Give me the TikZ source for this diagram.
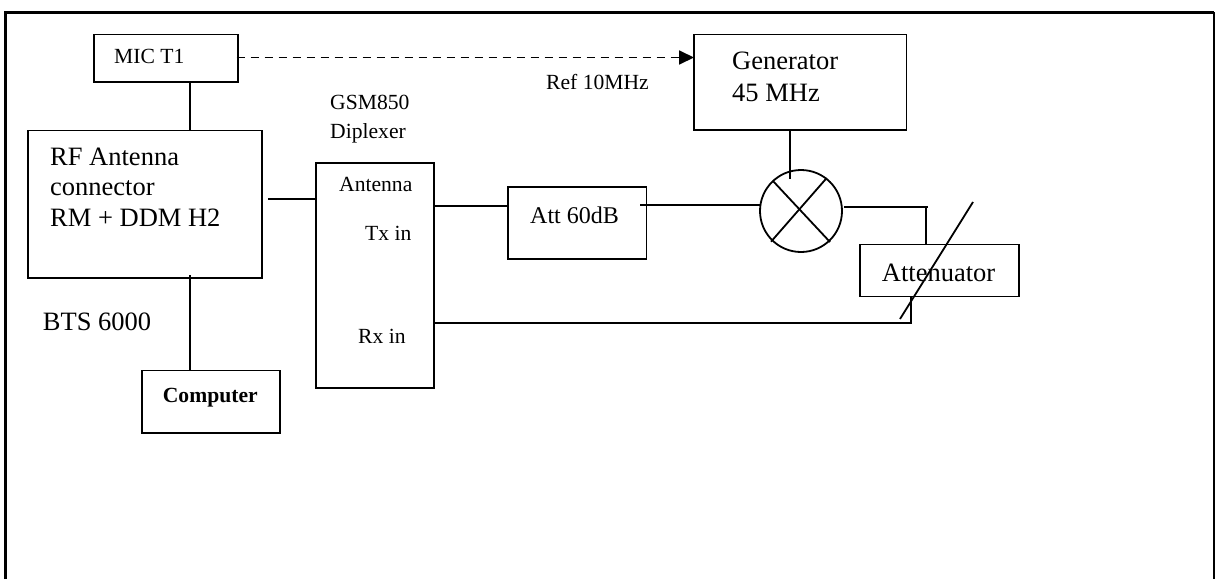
\documentclass[tikz,border=0pt]{standalone}
\usepackage{fontspec}
\setmainfont{Liberation Serif}
\usetikzlibrary{arrows.meta}
\tikzset{
  x=1pt,y=-1pt,
  boxnode/.style={draw,line width=1.8pt,inner sep=0pt,outer sep=0pt,anchor=north west},
  wire/.style={line width=1.8pt},
  big/.style={font=\fontsize{26.5}{31}\selectfont,inner sep=0pt,anchor=base west,align=left},
  small/.style={font=\fontsize{21.6}{30}\selectfont,inner sep=0pt,anchor=base west,align=left},
}
\newcommand{\boxat}[5]{\node[boxnode,minimum width=#4pt-#2pt,minimum height=#5pt-#3pt] (#1) at (#2,#3) {};}
\begin{document}
\begin{tikzpicture}
\useasboundingbox (0,0) rectangle (1215,579);
\fill[white] (0,0) rectangle (1215,579);
% frame
\coordinate (fbl) at (5.5,579);
\coordinate (ftl) at (5.5,12);
\coordinate (ftr) at (1214,12);
\coordinate (fbr) at (1214,579);
\draw[line width=3pt] (fbl) -- (ftl) -- (ftr);
\draw[line width=1.8pt] (ftr) -- (fbr);
% boxes
\boxat{mic}{94}{34.5}{238}{82}
\boxat{rf}{28}{130.5}{262}{278}
\boxat{dip}{316}{163}{434}{388}
\boxat{comp}{142}{370.5}{280}{433}
\boxat{gen}{694}{34.5}{906.5}{130}
\boxat{att}{508}{186.7}{646.5}{258.7}
\boxat{atr}{860}{244.5}{1019}{296.5}
\node[draw,circle,line width=1.8pt,minimum size=82pt,inner sep=0pt,outer sep=0pt] (mix) at (801,211) {};
% texts
\node[small] (tmic) at (114,63) {MIC T1};
\node[small] (tgsm) at (330,109) {GSM850};
\node[small] (tdipl) at (330,138) {Diplexer};
\node[small] (tant) at (339,191) {Antenna};
\node[small] (ttx) at (365,240.7) {Tx in};
\node[small] (trx) at (358,343.3) {Rx in};
\node[small] (tref) at (546,89.3) {Ref 10MHz};
\node[small,font=\fontsize{24}{30}\selectfont] (tatt) at (530,223) {Att 60dB};
\node[small,font=\fontsize{21.6}{30}\selectfont\bfseries] (tcomp) at (162.7,402.7) {Computer};
\node[big] (trf1) at (50,165) {RF Antenna};
\node[big] (trf2) at (50,195) {connector};
\node[big] (trf3) at (50,226.7) {RM + DDM H2};
\node[big] (tbts) at (42.7,330.7) {BTS 6000};
\node[big] (tgen1) at (732,69) {Generator};
\node[big] (tgen2) at (732,101) {45 MHz};
\node[big] (tatr) at (881.7,281) {Attenuator};
% helper coordinates
\coordinate (xa) at (190,0);
\coordinate (xg) at (790,0);
\coordinate (xm) at (926,0);
\coordinate (xr) at (911,0);
\coordinate (ydash) at (0,57.5);
\coordinate (ytx) at (0,206);
\coordinate (yatt) at (0,204.7);
\coordinate (yrx) at (0,322.7);
\coordinate (rfo) at (268,199);
\coordinate (rfb) at (190,275);
\coordinate (atto) at (640,204.7);
\coordinate (gb) at (790,179);
\coordinate (mixo) at (844,206.7);
\coordinate (mc) at (928,206.7);
\coordinate (sa) at (900,319);
\coordinate (sb) at (973,202);
\coordinate (xa1) at (772.7,180.7);
\coordinate (xa2) at (830,242);
\coordinate (xb1) at (771,241.7);
\coordinate (xb2) at (826.7,178);
\coordinate (dstart) at (236.5,57.5);
% connectors
\draw[wire] (mic.south -| xa) -- (rf.north -| xa);
\draw[wire,dash pattern=on 8pt off 6pt,-{Triangle[length=15pt,width=14pt]}] (dstart) -- (gen.west |- ydash);
\draw[wire] (rfb) -- (comp.north -| xa);
\draw[wire] (rfo) -- (dip.west |- rfo);
\draw[wire] (dip.east |- ytx) -- (att.west |- ytx);
\draw[wire] (atto) -- (mix.west |- yatt);
\draw[wire] (gen.south -| xg) -- (gb);
\draw[wire] (mixo) -- (mc);
\draw[wire] (mc -| xm) -- (atr.north -| xm);
\draw[wire] (dip.east |- yrx) -- (xr |- yrx) -- (atr.south -| xr);
\draw[wire] (sa) -- (sb);
\draw[wire] (xa1) -- (xa2);
\draw[wire] (xb1) -- (xb2);
\end{tikzpicture}
\end{document}
